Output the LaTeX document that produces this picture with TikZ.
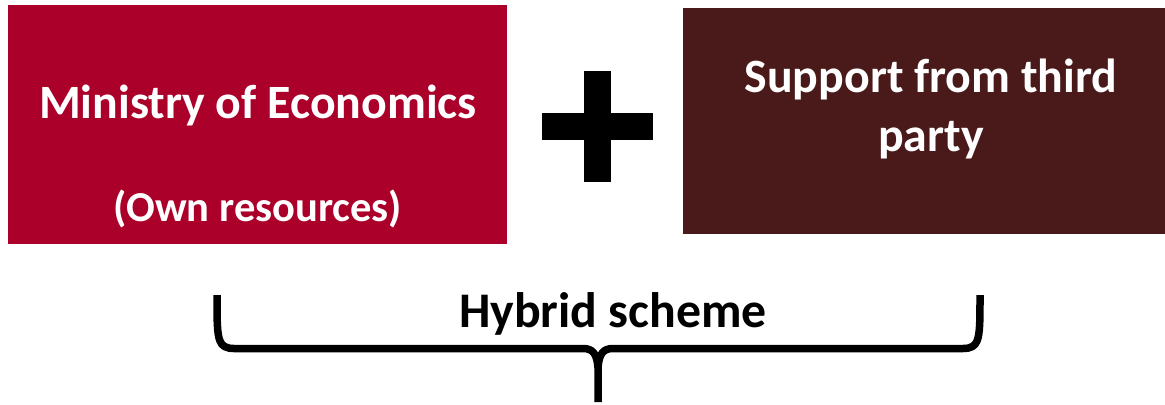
\documentclass[tikz,border=0pt]{standalone}
\usepackage{fontspec}
\setmainfont{Carlito}
\definecolor{minred}{HTML}{AB0029}
\definecolor{thirdbrown}{HTML}{4A1A1A}
\begin{document}
\begin{tikzpicture}[x=1bp,y=-1bp,
  boxtext/.style={text=white,font=\bfseries\fontsize{48}{58}\selectfont,anchor=base,inner sep=0pt},
  bracestyle/.style={line width=7.5bp,line join=round,line cap=butt,black}]
\useasboundingbox (0,0) rectangle (1165,404);
\fill[minred] (8,5) rectangle (507,244);
\fill[thirdbrown] (683,8) rectangle (1165,234);
\node[boxtext] (min) at (258,118) {Ministry of Economics};
\node[boxtext,font=\bfseries\fontsize{42.7}{52}\selectfont] (own) at (258,221) {(Own resources)};
\node[boxtext] (sup) at (931,92) {Support from third};
\node[boxtext] (party) at (931,151) {party};
% plus sign
\fill[black] (584,71) rectangle (611,182);
\fill[black] (542,113) rectangle (653,140);
\node[anchor=base,inner sep=0pt,font=\bfseries\fontsize{50}{60}\selectfont] (hyb) at (613,327) {Hybrid scheme};
% brace
\coordinate (bl) at (217,295);
\coordinate (br) at (980,295);
\coordinate (tip) at (598,402);
\draw[bracestyle] (bl) .. controls (217,320) and (217,334) .. (220,341)
  .. controls (222,346) and (226,348.5) .. (234,348.5) -- (583,348.5)
  .. controls (593,348.5) and (597,354) .. (598,368) -- (tip);
\draw[bracestyle] (br) .. controls (980,320) and (980,334) .. (977,341)
  .. controls (975,346) and (971,348.5) .. (963,348.5) -- (613,348.5)
  .. controls (603,348.5) and (599,354) .. (598,368);
\end{tikzpicture}
\end{document}
